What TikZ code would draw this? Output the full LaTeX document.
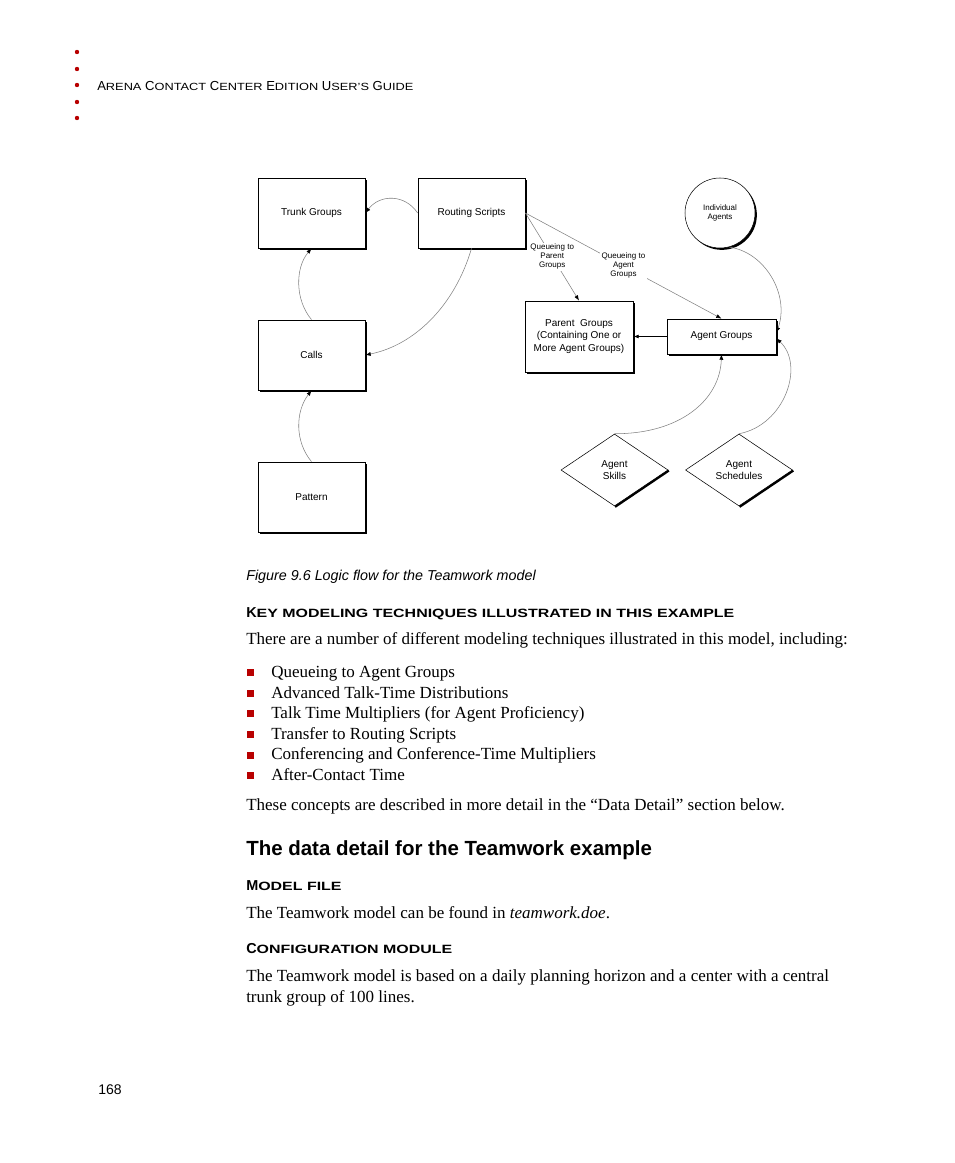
\documentclass[tikz,border=0pt]{standalone}
\usepackage{fontspec}
\setmainfont{Liberation Serif}
\setsansfont{Liberation Sans}
\newfontfamily\wideheadfont[FakeStretch=1.23]{Liberation Sans}
\newfontfamily\widebfont[FakeStretch=1.33]{Liberation Sans Bold}
\usetikzlibrary{positioning, arrows.meta, shadows, shapes.geometric}
\definecolor{mRed}{HTML}{B80000}
\definecolor{mGray}{HTML}{808080}

% fake small caps for the headings
\newcommand{\hdsc}[1]{{\wideheadfont\fontsize{7.8}{9}\selectfont #1}}
\newcommand{\kysc}[1]{{\widebfont\fontsize{9}{10.5}\selectfont #1}}

\begin{document}
\begin{tikzpicture}[
  x=0.75pt, y=-0.75pt,
  every node/.style={font=\sffamily},
  block/.style={draw, fill=white, line width=0.6pt, minimum width=80.25pt,
    minimum height=52.5pt, align=center, font=\sffamily\fontsize{7.5}{9.4}\selectfont,
    drop shadow={shadow xshift=1.6pt, shadow yshift=-1.6pt, opacity=1, fill=black}},
  gem/.style={diamond, draw, fill=white, line width=0.4pt, inner sep=0pt,
    minimum width=80.25pt, minimum height=54pt, align=center,
    font=\sffamily\fontsize{7.5}{9.4}\selectfont},
  flow/.style={draw=mGray, line width=0.4pt, -{Latex[length=4pt, width=3pt, black]}},
  qlabel/.style={fill=white, inner sep=1pt, align=center,
    font=\sffamily\fontsize{6}{6.8}\selectfont},
  body/.style={anchor=base west, inner sep=0pt, font=\rmfamily\fontsize{12.75}{15}\selectfont},
  heading/.style={anchor=base west, inner sep=0pt, font=\sffamily\bfseries\fontsize{10.8}{12.5}\selectfont},
]
  % Page
  \useasboundingbox (0,0) rectangle (954,1163);
  \fill[white] (0,0) rectangle (954,1163);

  % Running header
  \foreach \y in {52, 69, 85, 102, 118} {
    \fill[mRed] (77,\y) circle (2.2);
  }
  \node[anchor=base west, inner sep=0pt, font=\sffamily\fontsize{9.8}{11}\selectfont] (header) at (97,90)
    {A\hdsc{RENA} C\hdsc{ONTACT} C\hdsc{ENTER} E\hdsc{DITION} U\hdsc{SER’S} G\hdsc{UIDE}};

  % Diagram boxes
  \node[block] (trunk) at (311.5,213) {Trunk Groups};
  \node[block] (route) at (471.5,213) {Routing Scripts};
  \node[block] (calls) at (311.5,355) {Calls};
  \node[block] (pattern) at (311.5,497) {Pattern};
  \node[block, minimum width=81pt, minimum height=53.25pt] (parent) at (579,336.5)
    {Parent~~Groups\\(Containing One or\\More Agent Groups)};
  \node[block, minimum width=81.75pt, minimum height=26.25pt] (agents) at (721.5,336.5) {Agent Groups};
  \node[circle, draw, fill=white, line width=0.4pt, minimum size=52.5pt, align=center,
        font=\sffamily\fontsize{6}{6.8}\selectfont,
        drop shadow={shadow xshift=1.4pt, shadow yshift=-1.4pt, opacity=1, fill=black}]
    (indiv) at (720,213) {Individual\\Agents};
  \node[gem] (skills) at (614.5,470) {Agent\\Skills};
  \node[gem] (sched) at (739,470) {Agent\\Schedules};
  \draw[line width=1.6pt] ([shift={(0.6,0.6)}]skills.east) -- ([shift={(0.6,0.6)}]skills.south);
  \draw[line width=1.6pt] ([shift={(0.6,0.6)}]sched.east) -- ([shift={(0.6,0.6)}]sched.south);

  % Connectors
  \draw[flow] (route.west) .. controls (405,194) and (380,194) .. (trunk.east);
  \draw[flow] (calls.north) .. controls (295,300) and (295,268) .. (trunk.south);
  \draw[flow] (route.south) .. controls (455,305) and (415,345) .. (calls.east);
  \draw[flow] (pattern.north) .. controls (295,442) and (295,412) .. (calls.south);
  \draw[flow] (route.east) -- node[qlabel] (qparent) {Queueing to\\Parent\\Groups} (parent.north);
  \draw[flow] (route.east) -- node[qlabel] (qagent) {Queueing to\\Agent\\Groups} (agents.north);
  \draw[-{Latex[length=4pt, width=3pt]}, line width=0.6pt] (agents.west) -- (parent.east);
  \draw[flow] (indiv.-75) .. controls (765,252) and (790,295) .. (agents.4);
  \draw[flow] (skills.north) .. controls (680,434) and (720,400) .. (agents.south);
  \draw[flow] (sched.north) .. controls (785,425) and (805,365) .. (agents.-2);

  % Caption
  \node[anchor=base west, inner sep=0pt, font=\sffamily\itshape\fontsize{10.75}{13}\selectfont] (caption)
    at (246,580) {Figure 9.6 Logic flow for the Teamwork model};

  % Text below the figure
  \node[heading] (keyhead) at (246,617)
    {K\kysc{EY MODELING TECHNIQUES ILLUSTRATED IN THIS EXAMPLE}};
  \node[body] (intro) at (246,644)
    {There are a number of different modeling techniques illustrated in this model, including:};
  \foreach \txt [count=\i] in {Queueing to Agent Groups, Advanced Talk-Time Distributions,
      Talk Time Multipliers (for Agent Proficiency), Transfer to Routing Scripts,
      Conferencing and Conference-Time Multipliers, After-Contact Time} {
    \fill[mRed] (246.5,648.6+20.6*\i) rectangle ++(7,7);
    \node[body] (item\i) at (271,656.9+20.6*\i) {\txt};
  }
  \node[body] (concepts) at (246,810)
    {These concepts are described in more detail in the “Data Detail” section below.};
  \node[anchor=base west, inner sep=0pt, font=\sffamily\bfseries\fontsize{15.35}{18}\selectfont] (datahead)
    at (246,855) {The data detail for the Teamwork example};
  \node[heading] (modelhead) at (246,890) {M\kysc{ODEL FILE}};
  \node[body] (modeltxt) at (246,918) {The Teamwork model can be found in \textit{teamwork.doe}.};
  \node[heading] (confhead) at (246,953) {C\kysc{ONFIGURATION MODULE}};
  \node[body] (conf1) at (246,981)
    {The Teamwork model is based on a daily planning horizon and a center with a central};
  \node[body] (conf2) at (246,1002) {trunk group of 100 lines.};

  % Page number
  \node[anchor=base west, inner sep=0pt, font=\sffamily\fontsize{10.5}{12}\selectfont] (pageno)
    at (98,1094) {168};
\end{tikzpicture}
\end{document}
